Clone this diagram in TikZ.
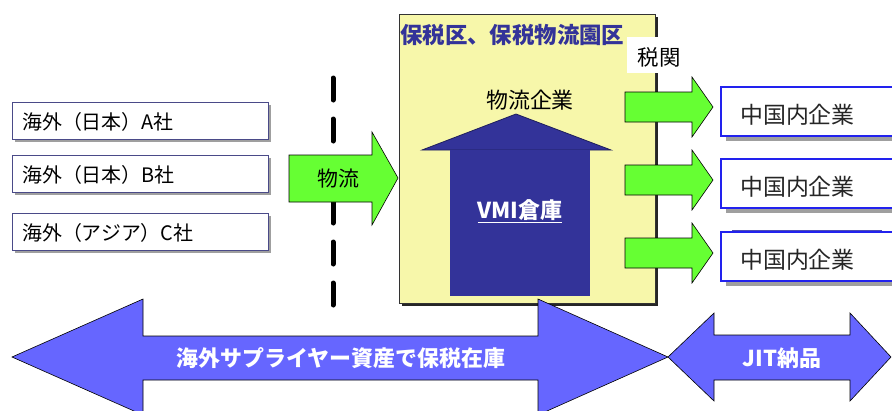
\documentclass[tikz,border=0pt]{standalone}
\usepackage{fontspec}
\setmainfont{Noto Sans CJK JP}
\definecolor{grn}{HTML}{66FF33}
\definecolor{ylw}{HTML}{F7F7AA}
\definecolor{navy}{HTML}{333399}
\definecolor{blu}{HTML}{6666FF}
\definecolor{bbord}{HTML}{2222EE}
\definecolor{lbord}{HTML}{4A4A88}
\tikzset{
  txt/.style={font=\fontsize{20}{22}\selectfont, inner sep=0pt},
  greenarrow/.style={fill=grn, draw=black, line width=0.6bp},
  bluearrow/.style={fill=blu, draw=black, line width=0.6bp},
  leftbox/.style={fill=white, draw=lbord, line width=1bp},
  rightbox/.style={fill=white, draw=bbord, line width=1.6bp},
  shade/.style={fill=gray!75, draw=none},
}
\begin{document}
\begin{tikzpicture}[x=1bp,y=-1bp]
\useasboundingbox (0,0) rectangle (892,410);
% dashed line
\draw[line width=5bp, line cap=round, dash pattern=on 22bp off 19bp] (333,78) -- (333,305);
% left boxes
\foreach \y/\t/\n in {102/海外（日本）A社/la, 155/海外（日本）B社/lb, 213/海外（アジア）C社/lc}{
  \fill[shade] (15,\y+3) rectangle (271,\y+40);
  \draw[leftbox] (12,\y) rectangle (268,\y+37);
  \node[txt, anchor=west] (\n) at (22,\y+20) {\t};
}
% yellow box
\fill[gray!30!black] (402,17) rectangle (658,306);
\draw[fill=ylw, draw=black!80, line width=0.8bp] (399,14) rectangle (655,303);
\node[txt, anchor=west, font=\fontsize{22.5}{24}\selectfont\bfseries, text=navy] (title) at (400,35) {保税区、保税物流園区};
\fill[white] (627,37) rectangle (700,73);
\node[txt, font=\fontsize{21.5}{24}\selectfont] (zeikan) at (659,57) {税関};
\node[txt, font=\fontsize{22}{24}\selectfont] (butsuryu) at (530,100) {物流企業};
% VMI warehouse
\fill[navy] (516,114) -- (611,150) -- (422,150) -- cycle;
\draw[navy!60!black, line width=0.8bp] (422,150) -- (516,114) -- (611,150) -- cycle;
\fill[navy] (450,150) rectangle (590,296);
\node[txt, font=\fontsize{22}{24}\selectfont\bfseries, text=white] (vmi) at (520,211) {\underline{VMI倉庫}};
% input green arrow
\draw[greenarrow] (289,155) -- (372,155) -- (372,132) -- (398,178) -- (372,225) -- (372,202) -- (289,202) -- cycle;
\node[txt, font=\fontsize{21}{24}\selectfont] (in) at (338,179) {物流};
% right boxes
\draw[gray!60!blue, line width=0.8bp] (732,230) -- (882,230);
\foreach \y/\n in {87/r1, 159/r2, 232/r3}{
  \fill[shade] (726,\y+5) rectangle (900,\y+54);
  \draw[rightbox] (721,\y) rectangle (905,\y+49);
  \node[txt, anchor=west, font=\fontsize{23}{24}\selectfont, text=black!85] (\n) at (740,\y+28) {中国内企業};
}
% right green arrows
\foreach \c in {107,180,253}{
  \draw[greenarrow] (625,\c-15) -- (692,\c-15) -- (692,\c-30) -- (713,\c) -- (692,\c+30) -- (692,\c+15) -- (625,\c+15) -- cycle;
}
% bottom blue arrows
\draw[bluearrow] (12,357) -- (143,299) -- (143,336) -- (538,336) -- (538,299) -- (668,357) -- (538,415) -- (538,380) -- (143,380) -- (143,415) -- cycle;
\draw[bluearrow] (668,357) -- (714,313) -- (714,335) -- (850,335) -- (850,313) -- (891,357) -- (850,401) -- (850,380) -- (714,380) -- (714,401) -- cycle;
\node[txt, font=\fontsize{22}{24}\selectfont\bfseries, text=white] (stock) at (341,358) {海外サプライヤー資産で保税在庫};
\node[txt, font=\fontsize{22}{24}\selectfont\bfseries, text=white] (jit) at (782,358) {JIT納品};
\end{tikzpicture}
\end{document}
